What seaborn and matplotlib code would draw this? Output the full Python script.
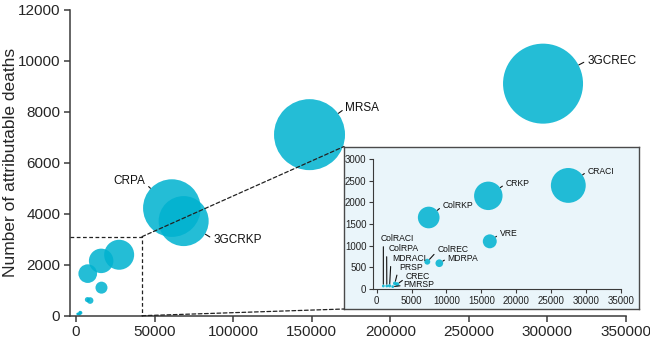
import numpy as np
import pandas as pd
import matplotlib
matplotlib.use("Agg")
import matplotlib.pyplot as plt
from matplotlib.patches import ConnectionPatch
import seaborn as sns

# Pathogen-resistance combinations: number of infections vs attributable deaths,
# bubble area proportional to the burden weight
labels = ['3GCREC', 'MRSA', 'CRPA', '3GCRKP', 'CRACI', 'CRKP', 'ColRKP', 'VRE',
          'MDRPA', 'ColREC', 'PRSP', 'CREC', 'PMRSP', 'MDRACI', 'ColRPA', 'ColRACI']
infections = [297200, 148600, 61000, 68500, 27450, 15990, 7450, 16200,
              8970, 7250, 2600, 2950, 2300, 1850, 1450, 950]
deaths = [9100, 7100, 4220, 3710, 2390, 2150, 1650, 1100,
          595, 630, 130, 110, 55, 75, 70, 70]
weight = [1600, 1260, 830, 625, 225, 150, 87, 36,
          11, 6.5, 2.5, 3, 1.5, 2, 1.5, 1.5]

main_labels = ['3GCREC', 'MRSA', 'CRPA', '3GCRKP']
main_ticks_x = [0, 50000, 100000, 150000, 200000, 250000, 300000, 350000]
main_ticks_y = [0, 2000, 4000, 6000, 8000, 10000, 12000]
inset_ticks_x = [0, 5000, 10000, 15000, 20000, 25000, 30000, 35000]
inset_ticks_y = [0, 500, 1000, 1500, 2000, 2500, 3000]
zoom_box = (42000, 3100)

df = pd.DataFrame({'label': labels, 'infections': infections,
                   'deaths': deaths, 'weight': weight})

sns.set_style('ticks')
plt.rcParams['font.family'] = ['Liberation Sans', 'DejaVu Sans']

BUBBLE = '#00B2D0'
ALPHA = 0.86
SPINE = '#3a3a3a'
PT_PER_PX = 0.72

fig = plt.figure(figsize=(6.5, 3.44), dpi=100)
W, H = 650, 344

# main axes
AX_L, AX_R, AX_B, AX_T = 70, 626, 315.7, 9.7
ax = fig.add_axes([AX_L / W, 1 - AX_B / H, (AX_R - AX_L) / W, (AX_B - AX_T) / H])
wmax = max(weight)
main_scale = (2 * PT_PER_PX) ** 2
sns.scatterplot(data=df, x='infections', y='deaths', size='weight',
                sizes=(0, main_scale * wmax), size_norm=(0, wmax),
                color=BUBBLE, alpha=ALPHA, linewidth=0, legend=False,
                ax=ax, zorder=2)
ax.set_xlim(-3830, 350000)
ax.set_ylim(0, 12000)
ax.set_xticks(main_ticks_x)
ax.set_yticks(main_ticks_y)
ax.set_xlabel('')
ax.set_ylabel('Number of attributable deaths', fontsize=12.5)
ax.yaxis.set_label_coords((18 - AX_L) / (AX_R - AX_L), 0.5)
ax.tick_params(labelsize=11, length=4, width=1.1, color=SPINE, pad=3)
for s in ['top', 'right']:
    ax.spines[s].set_visible(False)
for s in ['left', 'bottom']:
    ax.spines[s].set_color(SPINE)
    ax.spines[s].set_linewidth(1.1)
ax.patch.set_alpha(0)


def label_bubbles(axis, names, style, scale, fontsize):
    for name, (off, ha, va, rel) in style.items():
        if name not in names:
            continue
        row = df[df['label'] == name].iloc[0]
        r_pt = np.sqrt(scale * row['weight']) / 2
        axis.annotate(name, xy=(row['infections'], row['deaths']),
                      xytext=off, textcoords='offset points',
                      ha=ha, va=va, fontsize=fontsize, color='#111111',
                      arrowprops=dict(arrowstyle='-', color='#111111', lw=0.8,
                                      shrinkA=0, shrinkB=r_pt + 0.3,
                                      relpos=rel),
                      zorder=5)


main_style = {
    '3GCREC': ((31.7, 16.6), 'left', 'center', (0, 0.5)),
    'MRSA': ((25.9, 19.1), 'left', 'center', (0, 0.5)),
    'CRPA': ((-19.1, 19.4), 'right', 'center', (1, 0.3)),
    '3GCRKP': ((21.2, -13.7), 'left', 'center', (0, 0.6)),
}
label_bubbles(ax, main_labels, main_style, main_scale, 8.5)

# dashed zoom region
x0 = ax.get_xlim()[0]
ax.plot([x0, zoom_box[0], zoom_box[0]], [zoom_box[1], zoom_box[1], 0],
        ls=(0, (3, 2)), color='#222222', lw=0.9, zorder=3, clip_on=False)

# inset frame
box = fig.add_axes([344 / W, 1 - 309 / H, (639 - 344) / W, (309 - 146.5) / H])
box.set_facecolor('#EAF5FA')
box.set_xticks([])
box.set_yticks([])
for s in box.spines.values():
    s.set_color('#4a4a4a')
    s.set_linewidth(1.0)
    s.set_visible(True)
box.set_zorder(3)

for xyB in [(0, 1), (0, 0)]:
    xyA = (zoom_box[0], zoom_box[1] if xyB[1] == 1 else 0)
    con = ConnectionPatch(xyA=xyA, coordsA=ax.transData, xyB=xyB,
                          coordsB=box.transAxes, ls=(0, (3, 2)),
                          color='#222222', lw=0.9)
    con.set_zorder(4)
    fig.add_artist(con)

# inset axes
ins = fig.add_axes([373.3 / W, 1 - 289 / H, (621 - 373.3) / W, (289 - 159) / H])
ins.set_zorder(5)
ins.patch.set_alpha(0)
inset_scale = main_scale * 1.35
sns.scatterplot(data=df, x='infections', y='deaths', size='weight',
                sizes=(0, inset_scale * wmax), size_norm=(0, wmax),
                color=BUBBLE, alpha=ALPHA, linewidth=0, legend=False,
                ax=ins, zorder=2)
ins.set_xlim(-487, 35000)
ins.set_ylim(0, 3000)
ins.set_xticks(inset_ticks_x)
ins.set_yticks(inset_ticks_y)
ins.set_xlabel('')
ins.set_ylabel('')
ins.tick_params(labelsize=7, length=3, width=0.8, color=SPINE, pad=2,
                labelcolor='#222222')
for s in ['top', 'right']:
    ins.spines[s].set_visible(False)
for s in ['left', 'bottom']:
    ins.spines[s].set_color(SPINE)
    ins.spines[s].set_linewidth(0.8)

inset_style = {
    'CRACI': ((13.9, 10.3), 'left', 'center', (0, 0.5)),
    'CRKP': ((12.5, 8.6), 'left', 'center', (0, 0.5)),
    'ColRKP': ((10.1, 8.4), 'left', 'center', (0, 0.5)),
    'VRE': ((7.2, 5.4), 'left', 'center', (0, 0.5)),
    'ColREC': ((7.2, 9.1), 'left', 'center', (0, 0.3)),
    'MDRPA': ((6.0, 3.6), 'left', 'center', (0, 0.5)),
    'ColRACI': ((-1.9, 30.6), 'left', 'bottom', (0.08, 0)),
    'ColRPA': ((1.4, 23.4), 'left', 'bottom', (-0.07, 0)),
    'MDRACI': ((1.6, 16.2), 'left', 'bottom', (-0.03, 0)),
    'PRSP': ((3.1, 8.3), 'left', 'bottom', (-0.06, 0)),
    'CREC': ((6.0, 5.8), 'left', 'center', (0, 0.3)),
    'PMRSP': ((7.6, 1.5), 'left', 'center', (0, 0.4)),
}
inset_names = [l for l in labels if l not in main_labels]
label_bubbles(ins, inset_names, inset_style, inset_scale, 6.2)

fig.savefig('out.png', dpi=100)
